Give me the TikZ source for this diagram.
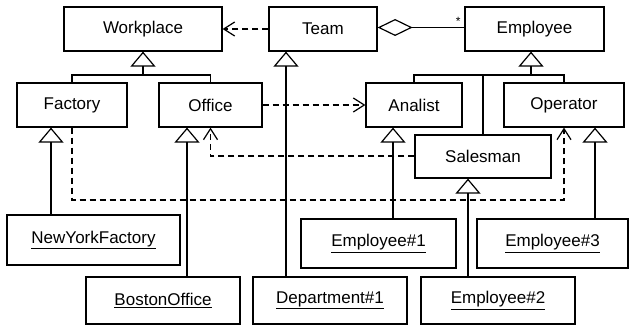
\documentclass[tikz,border=0pt]{standalone}
\usepackage{fontspec}
\setmainfont{Liberation Sans}
\usetikzlibrary{arrows.meta}
\tikzset{
  cls/.style={draw, line width=1.2pt, inner sep=0pt, minimum height=44pt,
    font=\fontsize{17}{19}\selectfont},
  obj/.style={cls, minimum height=48pt},
  link/.style={line width=1.2pt},
  inh/.style={link, -{Triangle[open, length=15pt, width=25pt, line width=1.2pt]}},
  dep/.style={link, dash pattern=on 6pt off 4pt,
    -{Straight Barb[length=11pt, width=14pt, line width=1.2pt]}},
  agg/.style={link, {Diamond[open, length=35pt, width=17pt, line width=1.2pt]}-},
}
\begin{document}
\begin{tikzpicture}[x=1pt, y=1pt]
\useasboundingbox (0,0) rectangle (629,-326);

% classes
\node[cls, minimum width=158pt] (wp)   at (143,-29)   {Workplace};
\node[cls, minimum width=108pt] (team) at (323,-29)   {Team};
\node[cls, minimum width=139pt] (emp)  at (534.5,-29) {Employee};
\node[cls, minimum width=110pt] (fac)  at (72,-105)   {Factory};
\node[cls, minimum width=103pt] (off)  at (210.5,-105){Office};
\node[cls, minimum width=96pt]  (ana)  at (414,-105)  {Analist};
\node[cls, minimum width=120pt] (ope)  at (564,-105)  {Operator};
\node[cls, minimum width=136pt, minimum height=43pt] (sal) at (483,-156.5) {Salesman};

% instances
\node[obj, minimum width=173pt, minimum height=50pt] (nyf) at (93.5,-240) {\underline{NewYorkFactory}};
\node[obj, minimum width=155pt, minimum height=49pt] (e1)  at (378.5,-243.5) {\underline{Employee\#1}};
\node[obj, minimum width=151pt, minimum height=49pt] (e3)  at (552.5,-243.5) {\underline{Employee\#3}};
\node[obj, minimum width=154pt, minimum height=47pt] (bos) at (163,-300.5) {\underline{BostonOffice}};
\node[obj, minimum width=154pt, minimum height=47pt] (dep) at (330,-300.5) {\underline{Department\#1}};
\node[obj, minimum width=154pt, minimum height=47pt] (e2)  at (498,-300.5) {\underline{Employee\#2}};

% generalisation of Workplace
\coordinate (wpj) at (wp.south |- 0,-75);
\draw[link] (fac.north) |- (wpj) -| (off.north);
\draw[inh] (wpj) -- (wp.south);

% generalisation of Employee
\coordinate (empj) at (531,-75);
\draw[link] (ana.north) |- (empj) -| (ope.north);
\draw[link] (sal.north) -- (sal.north |- empj);
\draw[inh] (empj) -- (emp.south -| empj);

% associations between classes
\draw[dep] (team.west) -- (wp.east);
\draw[agg] (team.east |- 0,-27.5) -- node[pos=0.93, above, yshift=-2pt, font=\fontsize{12}{12}\selectfont] {*} (emp.west |- 0,-27.5);
\draw[dep] (off.east) -- (ana.west);
\draw[dep] (sal.west |- 0,-156) -| (off.south);
\draw[dep] (fac.south) -- (fac.south |- 0,-200) -| (ope.south);

% instance-of links
\path ([xshift=-21pt]fac.south) coordinate (t1)
      ([xshift=-23.5pt]off.south) coordinate (t2)
      ([xshift=-37pt]team.south) coordinate (t3)
      ([xshift=-21pt]ana.south) coordinate (t4)
      ([xshift=-15pt]sal.south) coordinate (t5)
      ([xshift=31pt]ope.south) coordinate (t6);
\draw[inh] (t1 |- nyf.north) -- (t1);
\draw[inh] (t2 |- bos.north) -- (t2);
\draw[inh] (t3 |- dep.north) -- (t3);
\draw[inh] (t4 |- e1.north) -- (t4);
\draw[inh] (t5 |- e2.north) -- (t5);
\draw[inh] (t6 |- e3.north) -- (t6);
\end{tikzpicture}
\end{document}
